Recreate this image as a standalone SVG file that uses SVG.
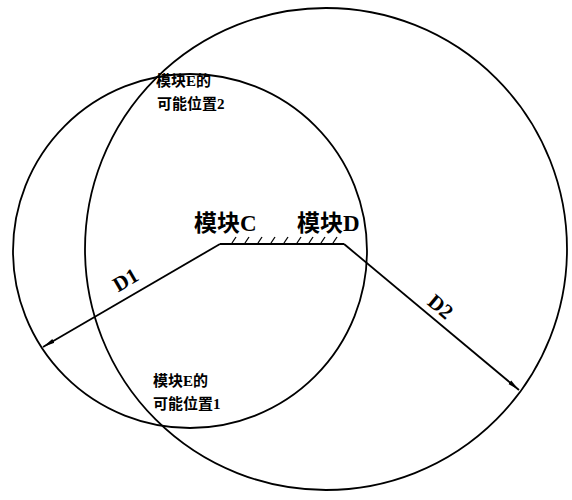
<svg xmlns="http://www.w3.org/2000/svg" width="572" height="500" viewBox="0 0 572 500">
<style>
.c{fill:none;stroke:#000;stroke-width:1.8}
.l{fill:none;stroke:#000;stroke-width:1.8}
.h{stroke:#000;stroke-width:1.3}
.t{font-family:"Liberation Serif","Noto Sans CJK SC",serif;font-weight:bold;fill:#000}
</style>
<defs>
<marker id="arr" viewBox="0 0 12 6" refX="12" refY="3" markerWidth="12" markerHeight="6" markerUnits="userSpaceOnUse" orient="auto">
<path d="M0,0.8 L12,3 L0,5.2 Z" fill="#000"/>
</marker>
</defs>
<rect width="572" height="500" fill="#fff"/>
<g id="circles">
<circle id="circle-D1" class="c" cx="190" cy="251" r="177"/>
<circle id="circle-D2" class="c" cx="326" cy="249" r="241"/>
</g>
<g id="modules">
<line class="l" x1="220" y1="244" x2="344" y2="244"/>
<g id="hatch">
<line class="h" x1="232" y1="243" x2="236" y2="237"/>
<line class="h" x1="245" y1="243" x2="249" y2="237"/>
<line class="h" x1="258" y1="243" x2="262" y2="237"/>
<line class="h" x1="271" y1="243" x2="275" y2="237"/>
<line class="h" x1="284" y1="243" x2="288" y2="237"/>
<line class="h" x1="297" y1="243" x2="301" y2="237"/>
<line class="h" x1="309" y1="243" x2="313" y2="237"/>
<line class="h" x1="321" y1="243" x2="325" y2="237"/>
<line class="h" x1="333" y1="243" x2="337" y2="237"/>
</g>
<g id="module-C"><text class="t" x="194" y="231" font-size="23">模块C</text></g>
<g id="module-D"><text class="t" x="297" y="231" font-size="23">模块D</text></g>
</g>
<g id="connectors">
<line class="l" x1="220" y1="244" x2="43" y2="347" marker-end="url(#arr)"/>
<line class="l" x1="344" y1="244" x2="519" y2="390" marker-end="url(#arr)"/>
</g>
<g id="dim-labels">
<text class="t" font-size="21" text-anchor="middle" transform="translate(129,286) rotate(-30)">D1</text>
<text class="t" font-size="21" text-anchor="middle" transform="translate(436,312) rotate(40)">D2</text>
</g>
<g id="position-2">
<text class="t" x="156" y="86" font-size="15">模块E的</text>
<text class="t" x="157" y="109" font-size="15">可能位置2</text>
</g>
<g id="position-1">
<text class="t" x="153" y="386" font-size="15">模块E的</text>
<text class="t" x="153" y="409" font-size="15">可能位置1</text>
</g>
</svg>
